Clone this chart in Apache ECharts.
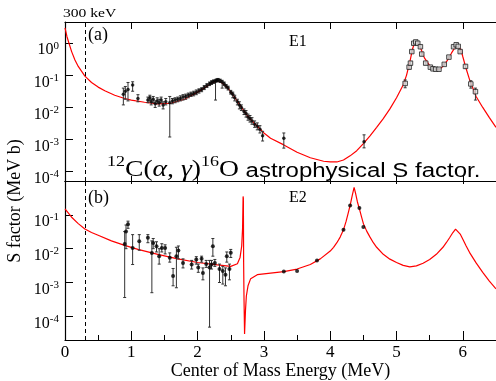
<!DOCTYPE html>
<html>
<head>
<meta charset="utf-8">
<script src="https://cdn.jsdelivr.net/npm/echarts@6.0.0/dist/echarts.min.js"></script>
<style>
  html, body { margin: 0; padding: 0; background: #fff; }
  #chart { width: 496px; height: 381px; }
</style>
</head>
<body>
<div id="chart"></div>
<script>
// 300 keV marker (MeV)
const cutEnergy = 0.3

// E1 fit curve [E (MeV), S (MeV b)]
const e1Curve = [
  [0.0, 3.0], [0.03, 1.6], [0.06, 1.0], [0.1, 0.55], [0.15, 0.3], [0.2, 0.19],
  [0.3, 0.095], [0.4, 0.06], [0.5, 0.043], [0.6, 0.033], [0.75, 0.024], [0.9, 0.019],
  [1.0, 0.017], [1.2, 0.0145], [1.4, 0.013], [1.6, 0.0135], [1.8, 0.018], [2.0, 0.03],
  [2.1, 0.04], [2.2, 0.055], [2.28, 0.066], [2.35, 0.062], [2.45, 0.042], [2.55, 0.022],
  [2.65, 0.011], [2.75, 0.0055], [2.85, 0.0033], [3.0, 0.0016], [3.1, 0.0011], [3.3, 0.00068],
  [3.5, 0.0004], [3.7, 0.00027], [3.9, 0.00021], [4.0, 0.0002], [4.1, 0.0002], [4.2, 0.00023],
  [4.3, 0.00031], [4.4, 0.00045], [4.5, 0.00075], [4.6, 0.0013], [4.7, 0.0024], [4.8, 0.0045],
  [4.9, 0.009], [5.0, 0.02], [5.1, 0.05], [5.15, 0.1], [5.2, 0.26], [5.24, 0.65],
  [5.27, 1.0], [5.3, 1.1], [5.33, 1.0], [5.37, 0.65], [5.42, 0.35], [5.5, 0.2],
  [5.6, 0.15], [5.65, 0.155], [5.7, 0.19], [5.77, 0.3], [5.83, 0.5], [5.9, 0.85],
  [5.93, 0.9], [5.97, 0.65], [6.0, 0.38], [6.05, 0.16], [6.1, 0.075], [6.2, 0.022],
  [6.3, 0.01], [6.4, 0.0048], [6.5, 0.0024]
]

// E1 measurements [E, S, low, high]
const e1Points = [
  [0.88, 0.026, 0.012, 0.040], [0.91, 0.032, 0.018, 0.045], [0.95, 0.036, 0.016, 0.060],
  [1.02, 0.050, 0.032, 0.063], [1.10, 0.019, 0.015, 0.025], [1.25, 0.017, 0.014, 0.021],
  [1.28, 0.020, 0.016, 0.024], [1.30, 0.015, 0.012, 0.018], [1.33, 0.018, 0.014, 0.022],
  [1.36, 0.013, 0.010, 0.016], [1.39, 0.016, 0.013, 0.020], [1.42, 0.014, 0.011, 0.018],
  [1.45, 0.017, 0.014, 0.021], [1.48, 0.012, 0.009, 0.015], [1.52, 0.015, 0.012, 0.019],
  [1.58, 0.014, 0.0012, 0.022], [1.62, 0.016, 0.013, 0.019], [1.66, 0.017, 0.014, 0.020],
  [1.70, 0.018, 0.015, 0.021], [1.74, 0.019, 0.016, 0.023], [1.78, 0.021, 0.017, 0.025],
  [1.82, 0.022, 0.018, 0.026], [1.86, 0.024, 0.020, 0.028], [1.90, 0.026, 0.022, 0.030],
  [1.94, 0.027, 0.023, 0.032], [1.98, 0.030, 0.025, 0.035], [2.02, 0.033, 0.028, 0.038],
  [2.06, 0.036, 0.031, 0.041], [2.10, 0.042, 0.036, 0.048], [2.14, 0.048, 0.042, 0.055],
  [2.18, 0.055, 0.048, 0.062], [2.21, 0.060, 0.052, 0.068], [2.24, 0.064, 0.056, 0.072],
  [2.27, 0.065, 0.017, 0.075], [2.29, 0.070, 0.062, 0.078], [2.31, 0.072, 0.064, 0.080],
  [2.34, 0.068, 0.060, 0.076], [2.37, 0.062, 0.040, 0.070], [2.40, 0.055, 0.048, 0.062],
  [2.43, 0.046, 0.040, 0.052], [2.46, 0.040, 0.035, 0.046], [2.50, 0.030, 0.026, 0.034],
  [2.53, 0.026, 0.020, 0.030], [2.56, 0.020, 0.016, 0.024], [2.60, 0.015, 0.012, 0.018],
  [2.63, 0.012, 0.009, 0.015], [2.66, 0.010, 0.008, 0.012], [2.70, 0.0075, 0.006, 0.009],
  [2.73, 0.0065, 0.005, 0.008], [2.76, 0.0050, 0.004, 0.0062], [2.79, 0.0045, 0.0035, 0.0056],
  [2.82, 0.0038, 0.003, 0.0048], [2.86, 0.0030, 0.0024, 0.0038], [2.90, 0.0026, 0.0020, 0.0033],
  [2.94, 0.0021, 0.0016, 0.0027], [2.98, 0.0013, 0.0009, 0.0018], [3.30, 0.0011, 0.00054, 0.0016],
  [4.51, 0.00085, 0.00055, 0.0014]
]

// E1 high-energy measurements (open squares) [E, S, low, high]
const e1Squares = [
  [5.13, 0.056, 0.041, 0.072], [5.19, 0.18, 0.16, 0.20], [5.21, 0.24, 0.21, 0.27],
  [5.23, 0.55, 0.50, 0.60], [5.26, 1.0, 0.92, 1.08], [5.29, 1.1, 1.0, 1.2],
  [5.32, 1.0, 0.92, 1.08], [5.36, 0.78, 0.72, 0.84], [5.38, 0.46, 0.42, 0.50],
  [5.44, 0.24, 0.22, 0.26], [5.51, 0.18, 0.17, 0.19], [5.55, 0.16, 0.15, 0.17],
  [5.59, 0.155, 0.145, 0.165], [5.64, 0.155, 0.145, 0.165], [5.72, 0.22, 0.21, 0.23],
  [5.79, 0.37, 0.35, 0.39], [5.86, 0.78, 0.73, 0.83], [5.90, 0.90, 0.84, 0.96],
  [5.93, 0.80, 0.75, 0.85], [5.96, 0.55, 0.51, 0.59], [6.04, 0.19, 0.17, 0.21],
  [6.12, 0.054, 0.040, 0.068], [6.19, 0.031, 0.017, 0.040]
]

// E2 fit curve [E, S]
const e2Curve = [
  [0.0, 0.15], [0.1, 0.085], [0.2, 0.055], [0.3, 0.038], [0.4, 0.03], [0.5, 0.025],
  [0.7, 0.017], [0.9, 0.0125], [1.1, 0.0095], [1.4, 0.0068], [1.7, 0.005], [2.0, 0.0039],
  [2.3, 0.0033], [2.5, 0.003], [2.6, 0.0036], [2.64, 0.0055], [2.665, 0.012], [2.678, 0.04],
  [2.686, 0.35], [2.69, 0.3], [2.694, 0.004], [2.70, 0.0003], [2.708, 0.00003], [2.714, 0.00003],
  [2.722, 0.00015], [2.735, 0.0004], [2.76, 0.0008], [2.8, 0.0013], [2.9, 0.0017], [3.1, 0.0019],
  [3.3, 0.0021], [3.5, 0.0025], [3.7, 0.0034], [3.85, 0.005], [4.0, 0.0085], [4.05, 0.011],
  [4.1, 0.015], [4.15, 0.022], [4.2, 0.036], [4.24, 0.065], [4.27, 0.11], [4.3, 0.19],
  [4.33, 0.36], [4.36, 0.65], [4.38, 0.45], [4.41, 0.24], [4.44, 0.15], [4.47, 0.09],
  [4.5, 0.055], [4.55, 0.033], [4.6, 0.022], [4.65, 0.015], [4.7, 0.011], [4.8, 0.0068],
  [4.9, 0.0049], [5.0, 0.0039], [5.1, 0.0032], [5.2, 0.0029], [5.3, 0.0031], [5.4, 0.0037],
  [5.5, 0.0048], [5.6, 0.0068], [5.7, 0.011], [5.75, 0.015], [5.8, 0.021], [5.85, 0.03],
  [5.89, 0.038], [5.92, 0.036], [5.96, 0.027], [6.0, 0.019], [6.05, 0.012], [6.1, 0.0078],
  [6.2, 0.0038], [6.3, 0.002], [6.4, 0.0011], [6.5, 0.00065]
]

// E2 measurements [E, S, low, high]
const e2Points = [
  [0.90, 0.0138, 0.00036, 0.032], [0.92, 0.032, 0.010, 0.050], [0.95, 0.053, 0.040, 0.065],
  [1.02, 0.0105, 0.0034, 0.026], [1.12, 0.0165, 0.009, 0.026], [1.25, 0.021, 0.015, 0.026],
  [1.31, 0.0075, 0.0005, 0.017], [1.33, 0.0148, 0.010, 0.020], [1.38, 0.0117, 0.008, 0.016],
  [1.42, 0.006, 0.0035, 0.010], [1.46, 0.0105, 0.008, 0.014], [1.51, 0.0105, 0.007, 0.013],
  [1.58, 0.0054, 0.004, 0.0075], [1.63, 0.00155, 0.0008, 0.0026], [1.68, 0.006, 0.0007, 0.011],
  [1.71, 0.0089, 0.005, 0.012], [1.78, 0.0038, 0.0027, 0.005], [1.91, 0.0034, 0.0025, 0.0045],
  [1.98, 0.0048, 0.0035, 0.0058], [2.01, 0.0028, 0.002, 0.0035], [2.06, 0.005, 0.004, 0.006],
  [2.08, 0.0019, 0.0012, 0.0027], [2.13, 0.0035, 0.0028, 0.0045], [2.18, 0.0028, 0.000048, 0.0045],
  [2.21, 0.0034, 0.0025, 0.0045], [2.23, 0.0117, 0.006, 0.020], [2.26, 0.0038, 0.003, 0.0048],
  [2.33, 0.0025, 0.001, 0.0035], [2.38, 0.0022, 0.0009, 0.003], [2.42, 0.0017, 0.0008, 0.0027],
  [2.44, 0.006, 0.004, 0.008], [2.48, 0.0025, 0.0012, 0.0035], [2.50, 0.0076, 0.0055, 0.0095],
  [3.30, 0.0021, 0.0021, 0.0021], [3.50, 0.0022, 0.0022, 0.0022], [3.80, 0.0045, 0.0045, 0.0045],
  [4.20, 0.036, 0.036, 0.036], [4.30, 0.19, 0.19, 0.19], [4.44, 0.16, 0.16, 0.16],
  [4.50, 0.044, 0.044, 0.044]
]

const serif = 'Liberation Serif'
const sans = 'Liberation Sans'

const chart = echarts.init(document.getElementById('chart'), null, { renderer: 'canvas' })

// error bar with small caps
function renderErrorBar(params, api) {
  const x = api.value(0)
  const lo = api.value(2)
  const hi = api.value(3)
  if (lo === hi) return { type: 'group', children: [] }
  const p0 = api.coord([x, lo])
  const p1 = api.coord([x, hi])
  const c = 1.5
  const style = { stroke: '#333', lineWidth: 1 }
  return {
    type: 'group',
    children: [
      { type: 'line', shape: { x1: p0[0], y1: p0[1], x2: p1[0], y2: p1[1] }, style },
      { type: 'line', shape: { x1: p0[0] - c, y1: p0[1], x2: p0[0] + c, y2: p0[1] }, style },
      { type: 'line', shape: { x1: p1[0] - c, y1: p1[1], x2: p1[0] + c, y2: p1[1] }, style }
    ]
  }
}

const axisLine = { show: true, lineStyle: { color: '#000', width: 1.2 } }

function xAxisCfg(grid, pos, tickLen, labels) {
  return {
    gridIndex: grid, type: 'value', position: pos, min: 0, max: 6.5, interval: 1,
    axisLine,
    axisTick: { show: true, inside: true, length: tickLen, lineStyle: { color: '#000', width: 1 } },
    minorTick: labels ? { show: true, splitNumber: 2, length: 5, lineStyle: { color: '#000' } } : { show: false },
    axisLabel: labels ? {
      show: true, margin: 4, color: '#000', fontFamily: serif, fontSize: 17, showMaxLabel: false
    } : { show: false },
    splitLine: { show: false },
    name: labels ? 'Center of Mass Energy (MeV)' : '',
    nameLocation: 'middle', nameGap: 22,
    nameTextStyle: { color: '#000', fontFamily: serif, fontSize: 18 }
  }
}

function yAxisCfg(grid, min, max) {
  return {
    gridIndex: grid, type: 'log', min, max, logBase: 10,
    axisLine,
    axisTick: { show: true, inside: true, length: 8, lineStyle: { color: '#000', width: 1 } },
    splitLine: { show: false },
    axisLabel: {
      show: true, margin: 6, showMinLabel: false, showMaxLabel: false,
      padding: [12, 0, 0, 0],
      formatter: v => '{b|10}{s|' + Math.round(Math.log10(v)) + '}',
      rich: {
        b: { fontFamily: serif, fontSize: 16, lineHeight: 18, verticalAlign: 'bottom', color: '#000' },
        s: { fontFamily: serif, fontSize: 11, lineHeight: 11, verticalAlign: 'top', color: '#000' }
      }
    }
  }
}

const cutLine = {
  symbol: 'none', silent: true, label: { show: false },
  lineStyle: { type: [4, 3], color: '#000', width: 1 },
  data: [{ xAxis: cutEnergy }]
}

const option = {
  animation: false,
  backgroundColor: '#fff',
  grid: [
    { left: 65, top: 22, width: 432, height: 159 },
    { left: 65, top: 181, width: 432, height: 160 }
  ],
  xAxis: [
    xAxisCfg(0, 'bottom', 5, false),
    xAxisCfg(0, 'top', 7, false),
    xAxisCfg(1, 'bottom', 9, true),
    xAxisCfg(1, 'top', 3, false)
  ],
  yAxis: [
    yAxisCfg(0, 5.1e-5, 4.6),
    yAxisCfg(1, 2e-5, 1)
  ],
  series: [
    {
      type: 'line', xAxisIndex: 0, yAxisIndex: 0, data: e1Curve, showSymbol: false,
      lineStyle: { color: '#ff0000', width: 1.2 }, markLine: cutLine, z: 1
    },
    {
      type: 'custom', xAxisIndex: 0, yAxisIndex: 0, data: e1Points.concat(e1Squares),
      renderItem: renderErrorBar, encode: { x: 0, y: [2, 3] }, z: 2
    },
    {
      type: 'scatter', xAxisIndex: 0, yAxisIndex: 0, data: e1Points.map(d => [d[0], d[1]]),
      symbol: 'circle', symbolSize: 3.5, itemStyle: { color: '#000' }, z: 3
    },
    {
      type: 'scatter', xAxisIndex: 0, yAxisIndex: 0, data: e1Squares.map(d => [d[0], d[1]]),
      symbol: 'rect', symbolSize: 4.5, itemStyle: { color: '#ddd', borderColor: '#222', borderWidth: 1 }, z: 3
    },
    {
      type: 'line', xAxisIndex: 2, yAxisIndex: 1, data: e2Curve, showSymbol: false,
      lineStyle: { color: '#ff0000', width: 1.2 }, markLine: cutLine, z: 1
    },
    {
      type: 'custom', xAxisIndex: 2, yAxisIndex: 1, data: e2Points,
      renderItem: renderErrorBar, encode: { x: 0, y: [2, 3] }, z: 2
    },
    {
      type: 'scatter', xAxisIndex: 2, yAxisIndex: 1, data: e2Points.map(d => [d[0], d[1]]),
      symbol: 'circle', symbolSize: 4, itemStyle: { color: '#000' }, z: 3
    }
  ],
  graphic: [
    { type: 'text', x: 63, y: 20, scaleX: 1.2, style: { text: '300 keV', fontFamily: serif, fontSize: 13, fill: '#000', verticalAlign: 'bottom' } },
    { type: 'text', x: 88, y: 26, style: { text: '(a)', fontFamily: serif, fontSize: 18, fill: '#000' } },
    { type: 'text', x: 289, y: 34, style: { text: 'E1', fontFamily: serif, fontSize: 16, fill: '#000' } },
    { type: 'text', x: 88, y: 189, style: { text: '(b)', fontFamily: serif, fontSize: 18, fill: '#000' } },
    { type: 'text', x: 289, y: 190, style: { text: 'E2', fontFamily: serif, fontSize: 16, fill: '#000' } },
    {
      type: 'text', x: 15, y: 201, rotation: Math.PI / 2,
      style: { text: 'S factor (MeV b)', fontFamily: serif, fontSize: 18, fill: '#000', align: 'center', verticalAlign: 'middle' }
    },
    {
      type: 'text', x: 107, y: 181, scaleX: 1.2, z: 10,
      style: {
        text: '{p|12}{m|C(}{i|α, γ}{m|)}{p|16}{m|O}{t| astrophysical S factor.}',
        verticalAlign: 'bottom',
        rich: {
          p: { fontFamily: serif, fontSize: 15, lineHeight: 15, verticalAlign: 'top', fill: '#000' },
          m: { fontFamily: serif, fontSize: 23, lineHeight: 26, verticalAlign: 'bottom', fill: '#000' },
          i: { fontFamily: serif, fontStyle: 'italic', fontSize: 23, lineHeight: 26, verticalAlign: 'bottom', fill: '#000' },
          t: { fontFamily: sans, fontSize: 20, lineHeight: 26, verticalAlign: 'bottom', fill: '#000' }
        }
      }
    }
  ]
}

chart.setOption(option)
</script>
</body>
</html>
